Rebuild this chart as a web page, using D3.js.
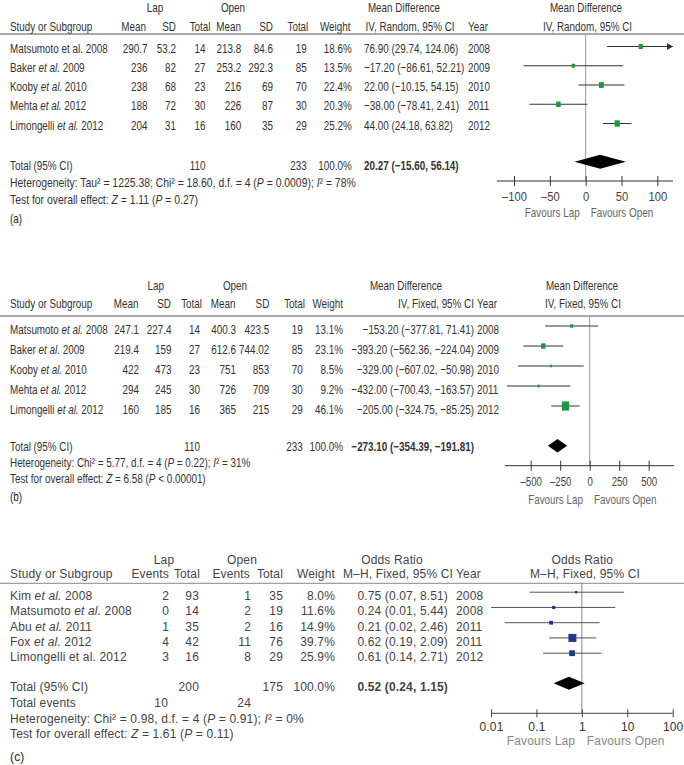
<!DOCTYPE html>
<html><head><meta charset="utf-8">
<script src="https://cdn.jsdelivr.net/npm/d3@7/dist/d3.min.js"></script>
<style>html,body{margin:0;padding:0;background:#fff;}svg{display:block;}</style>
</head><body>
<svg id="chart" width="684" height="765"></svg>
<script>
// ---------------- DATA ----------------
// Panel (a)
const studiesA = ["Matsumoto et al. 2008","Baker et al. 2009","Kooby et al. 2010","Mehta et al. 2012","Limongelli et al. 2012"];
const italicA = [false,true,true,true,true];
const lapMeanA = [290.7,236,238,188,204];
const lapSDA = [53.2,82,68,72,31];
const lapNA = [14,27,23,30,16];
const openMeanA = [213.8,253.2,216,226,160];
const openSDA = [84.6,292.3,69,87,35];
const openNA = [19,85,70,30,29];
const weightA = [18.6,13.5,22.4,20.3,25.2];
const estA = [76.90,-17.20,22.00,-38.00,44.00];
const loA = [29.74,-86.61,-10.15,-78.41,24.18];
const hiA = [124.06,52.21,54.15,2.41,63.82];
const yearA = [2008,2009,2010,2011,2012];
const totalA = [20.27,-15.60,56.14];
const totalNA = [110,233];
const ticksA = [-100,-50,0,50,100];
const hetA = "Heterogeneity: Tau² = 1225.38; Chi² = 18.60, d.f. = 4 (*P* = 0.0009); *I*² = 78%";
const testA = "Test for overall effect: *Z* = 1.11 (*P* = 0.27)";

// Panel (b)
const studiesB = ["Matsumoto et al. 2008","Baker et al. 2009","Kooby et al. 2010","Mehta et al. 2012","Limongelli et al. 2012"];
const italicB = [true,true,true,true,true];
const lapMeanB = [247.1,219.4,422,294,160];
const lapSDB = [227.4,159,473,245,185];
const lapNB = [14,27,23,30,16];
const openMeanB = [400.3,612.6,751,726,365];
const openSDB = [423.5,744.02,853,709,215];
const openNB = [19,85,70,30,29];
const weightB = [13.1,23.1,8.5,9.2,46.1];
const estB = [-153.20,-393.20,-329.00,-432.00,-205.00];
const loB = [-377.81,-562.36,-607.02,-700.43,-324.75];
const hiB = [71.41,-224.04,-50.98,-163.57,-85.25];
const yearB = [2008,2009,2010,2011,2012];
const totalB = [-273.10,-354.39,-191.81];
const totalNB = [110,233];
const ticksB = [-500,-250,0,250,500];
const hetB = "Heterogeneity: Chi² = 5.77, d.f. = 4 (*P* = 0.22); *I*² = 31%";
const testB = "Test for overall effect: *Z* = 6.58 (*P* < 0.00001)";

// Panel (c)
const studiesC = ["Kim et al. 2008","Matsumoto et al. 2008","Abu et al. 2011","Fox et al. 2012","Limongelli et al. 2012"];
const italicC = [true,true,true,true,false];
const lapEvC = [2,0,1,4,3];
const lapNC = [93,14,35,42,16];
const openEvC = [1,2,2,11,8];
const openNC = [35,19,16,76,29];
const weightC = [8.0,11.6,14.9,39.7,25.9];
const estC = [0.75,0.24,0.21,0.62,0.61];
const loC = [0.07,0.01,0.02,0.19,0.14];
const hiC = [8.51,5.44,2.46,2.09,2.71];
const yearC = [2008,2008,2011,2011,2012];
const totalC = [0.52,0.24,1.15];
const totalNC = [200,175];
const totalEvC = [10,24];
const ticksC = [0.01,0.1,1,10,100];
const tickLabelsC = ["0.01","0.1","1","10","100"];
const hetC = "Heterogeneity: Chi² = 0.98, d.f. = 4 (*P* = 0.91); *I*² = 0%";
const testC = "Test for overall effect: *Z* = 1.61 (*P* = 0.11)";

// ---------------- DRAWING ----------------
const svg = d3.select("#chart");
svg.append("rect").attr("width",684).attr("height",765).attr("fill","#fff");

const FA = "'Liberation Sans',Arial,sans-serif";
const dash = s => s.replace(/-/g, "\u2013");
const f2 = v => dash(d3.format(".2f")(v));
const pct = v => d3.format(".1f")(v) + "%";
const numS = v => dash(String(v));

function txt(g, x, y, str, o = {}) {
  const t = g.append("text").attr("dy", "0.36em")
    .attr("text-anchor", o.anchor || "start")
    .attr("font-family", o.family).attr("font-size", o.size)
    .attr("fill", o.fill).attr("font-weight", o.weight || null)
    .attr("letter-spacing", o.ls || null);
  if (o.sx && o.sx !== 1) t.attr("transform", `translate(${x},${y}) scale(${o.sx},1)`);
  else t.attr("x", x).attr("y", y);
  String(str).split("*").forEach((p, i) => {
    if (p.length) t.append("tspan").text(p).attr("font-style", i % 2 ? "italic" : null);
  });
  return t;
}
const nameMarkup = (n, it) => it ? n.replace(" et al. ", " *et al.* ") : n;

function panel(cfg) {
  const g = svg.append("g");
  const o = {family: cfg.font, size: cfg.fs, fill: cfg.textFill, ls: cfg.ls, sx: cfg.sx};
  const oe = Object.assign({}, o, {anchor: "end"});
  const om = Object.assign({}, o, {anchor: "middle"});
  const L = cfg.L;

  // header
  txt(g, L.lapC, L.topY, "Lap", om);
  txt(g, L.openC, L.topY, "Open", om);
  txt(g, 10, L.subY, "Study or Subgroup", o);
  cfg.cols.forEach(c => txt(g, c.hx, L.subY, c.h, oe));
  txt(g, L.midHdrC, L.topY, cfg.effName, om);
  txt(g, L.ciHdrX, L.subY, cfg.method, Object.assign({}, o, {anchor: L.ciAnchor}));
  txt(g, L.yearX, L.subY, "Year", o);
  txt(g, L.rightHdrC, L.topY, cfg.effName, om);
  txt(g, L.rightHdrC2, L.subY, cfg.method, om);
  g.append("line").attr("x1", 0).attr("x2", 684).attr("y1", L.lineY).attr("y2", L.lineY)
    .attr("stroke", cfg.ruleColor).attr("stroke-width", 1);

  const x = cfg.x;
  const [pl, pr] = L.plotExt;
  // zero line
  g.append("line").attr("x1", x(cfg.nullV)).attr("x2", x(cfg.nullV))
    .attr("y1", L.lineY).attr("y2", L.axisY).attr("stroke", cfg.zeroColor).attr("stroke-width", 1);

  const sz = d3.scalePow().exponent(0.75).domain([0, d3.max(cfg.weight)]).range([0, cfg.maxBox]);
  cfg.names.forEach((n, i) => {
    const ty = L.rowY0 + L.rowStep * i;
    const my = ty + L.markOff;
    txt(g, 10, ty, nameMarkup(n, cfg.italic[i]), o);
    cfg.cols.forEach(c => txt(g, c.vx, ty, c.v(i), oe));
    txt(g, L.ciX, ty, cfg.ciFmt(cfg.est[i], cfg.lo[i], cfg.hi[i]), Object.assign({}, o, {anchor: L.ciAnchor}));
    txt(g, L.yearX, ty, cfg.year[i], o);
    // CI line
    const x1 = Math.max(pl, x(cfg.lo[i])), x2raw = x(cfg.hi[i]);
    const x2 = Math.min(pr, x2raw);
    g.append("line").attr("x1", x1).attr("x2", x2).attr("y1", my).attr("y2", my)
      .attr("stroke", cfg.ciColor).attr("stroke-width", 1);
    if (x2raw > pr) {
      g.append("path").attr("d", `M${pr},${my} l-6,-3.5 l0,7 Z`).attr("fill", cfg.ciColor);
    }
    const w = Math.max(2, sz(cfg.weight[i])), h = w * cfg.boxAspect;
    g.append("rect").attr("x", x(cfg.est[i]) - w / 2).attr("y", my - h / 2)
      .attr("width", w).attr("height", h).attr("fill", cfg.boxColor);
  });

  // totals
  txt(g, 10, L.totalY, "Total (95% CI)", o);
  txt(g, L.totNx[0], L.totalY, cfg.totalN[0], oe);
  txt(g, L.totNx[1], L.totalY, cfg.totalN[1], oe);
  txt(g, L.totWx, L.totalY, pct(100), oe);
  txt(g, L.ciX, L.totalY, cfg.ciFmt(cfg.total[0], cfg.total[1], cfg.total[2]),
      Object.assign({}, o, {anchor: L.ciAnchor, weight: "bold"}));
  const dy = L.diamY, hh = L.diamH;
  g.append("path").attr("d", `M${x(cfg.total[1])},${dy} L${x(cfg.total[0])},${dy - hh} L${x(cfg.total[2])},${dy} L${x(cfg.total[0])},${dy + hh} Z`)
    .attr("fill", "#000");

  if (cfg.totalEv) {
    txt(g, 10, L.evY, "Total events", o);
    txt(g, L.evX[0], L.evY, cfg.totalEv[0], oe);
    txt(g, L.evX[1], L.evY, cfg.totalEv[1], oe);
  }
  const oh = Object.assign({}, o, {sx: cfg.hsx || cfg.sx});
  txt(g, 10, L.hetY, cfg.het, oh);
  txt(g, 10, L.testY, cfg.test, oh);
  txt(g, 10, L.labY, cfg.label, Object.assign({}, o, {fill: "#222"}));

  // axis
  const ax = g.append("g").attr("transform", `translate(0,${L.axisY})`);
  ax.append("line").attr("x1", pl).attr("x2", pr).attr("stroke", cfg.axisColor).attr("stroke-width", 1);
  const axis = d3.axisBottom(x).tickValues(cfg.ticks).tickSize(0).tickFormat((d, i) => cfg.tickLabels[i]);
  const ag = ax.append("g").call(axis);
  ag.select(".domain").remove();
  ag.selectAll(".tick line").attr("y1", -L.tk).attr("y2", L.tk).attr("stroke", cfg.axisColor);
  ag.selectAll(".tick text").attr("y", 0).attr("dy", "0.36em")
    .attr("transform", `translate(0,${L.tickLabY - L.axisY}) scale(${cfg.tsx || 1},1)`)
    .attr("font-family", cfg.font).attr("font-size", cfg.fs).attr("fill", cfg.tickFill)
    .attr("letter-spacing", cfg.ls || null);
  const z = x(cfg.nullV);
  txt(g, z - L.favGap, L.favY, "Favours Lap", Object.assign({}, o, {anchor: "end", fill: cfg.favFill}));
  txt(g, z + L.favGap2, L.favY, "Favours Open", Object.assign({}, o, {fill: cfg.favFill}));
}

const mdFmt = (e, l, h) => `${f2(e)} (${f2(l)}, ${f2(h)})`;
const orFmt = (e, l, h) => `${d3.format(".2f")(e)} (${d3.format(".2f")(l)}, ${d3.format(".2f")(h)})`;

// Panel (a)
panel({
  font: FA, fs: 13, sx: 0.76, hsx: 0.8, tsx: 0.86, textFill: "#333", tickFill: "#444", favFill: "#666",
  ruleColor: "#555", zeroColor: "#999", ciColor: "#333", axisColor: "#333",
  boxColor: "#1a9a3c", boxAspect: 1.2, maxBox: 5.3,
  effName: "Mean Difference", method: "IV, Random, 95% CI", label: "(a)",
  names: studiesA, italic: italicA, weight: weightA, est: estA, lo: loA, hi: hiA, year: yearA,
  total: totalA, totalN: totalNA, het: hetA, test: testA, nullV: 0,
  ticks: ticksA, tickLabels: ticksA.map(numS),
  x: d3.scaleLinear().domain([-100, 100]).range([514, 657.3]),
  ciFmt: mdFmt,
  cols: [
    {h: "Mean", hx: 146, vx: 147.5, v: i => numS(lapMeanA[i])},
    {h: "SD", hx: 176, vx: 176, v: i => numS(lapSDA[i])},
    {h: "Total", hx: 210.5, vx: 205.5, v: i => lapNA[i]},
    {h: "Mean", hx: 241, vx: 241.3, v: i => numS(openMeanA[i])},
    {h: "SD", hx: 273, vx: 273, v: i => numS(openSDA[i])},
    {h: "Total", hx: 308.3, vx: 306.7, v: i => openNA[i]},
    {h: "Weight", hx: 350.5, vx: 351.7, v: i => pct(weightA[i])}
  ],
  L: {lapC: 155, openC: 233, topY: 7.5, subY: 26.5, lineY: 34,
      midHdrC: 404, ciHdrX: 365.5, ciX: 364, ciAnchor: "start", yearX: 468,
      rightHdrC: 586, rightHdrC2: 587.5,
      rowY0: 48, rowStep: 19.25, markOff: -1.5,
      totalY: 165, totNx: [205.5, 306.7], totWx: 351.7, diamY: 161.7, diamH: 7,
      hetY: 182.3, testY: 199, labY: 218.3,
      plotExt: [497, 673], axisY: 181, tk: 5, tickLabY: 196, favY: 212.7, favGap: 6, favGap2: 5}
});

// Panel (b)
panel({
  font: FA, fs: 13, sx: 0.76, tsx: 0.74, textFill: "#333", tickFill: "#444", favFill: "#666",
  ruleColor: "#555", zeroColor: "#999", ciColor: "#333", axisColor: "#333",
  boxColor: "#1a9a3c", boxAspect: 1.25, maxBox: 7.3,
  effName: "Mean Difference", method: "IV, Fixed, 95% CI", label: "(b)",
  names: studiesB, italic: italicB, weight: weightB, est: estB, lo: loB, hi: hiB, year: yearB,
  total: totalB, totalN: totalNB, het: hetB, test: testB, nullV: 0,
  ticks: ticksB, tickLabels: ticksB.map(numS),
  x: d3.scaleLinear().domain([-500, 500]).range([530.7, 648.7]),
  ciFmt: mdFmt,
  cols: [
    {h: "Mean", hx: 138.5, vx: 139, v: i => numS(lapMeanB[i])},
    {h: "SD", hx: 171, vx: 171.5, v: i => numS(lapSDB[i])},
    {h: "Total", hx: 202, vx: 200, v: i => lapNB[i]},
    {h: "Mean", hx: 235.5, vx: 236, v: i => numS(openMeanB[i])},
    {h: "SD", hx: 269.3, vx: 269.3, v: i => numS(openSDB[i])},
    {h: "Total", hx: 305, vx: 302.7, v: i => openNB[i]},
    {h: "Weight", hx: 343, vx: 343, v: i => pct(weightB[i])}
  ],
  L: {lapC: 155.7, openC: 235, topY: 285, subY: 303, lineY: 316,
      midHdrC: 406, ciHdrX: 474, ciX: 474, ciAnchor: "end", yearX: 477,
      rightHdrC: 582, rightHdrC2: 583,
      rowY0: 329, rowStep: 20, markOff: -3,
      totalY: 446.7, totNx: [200, 302.7], totWx: 343, diamY: 445.7, diamH: 6.7,
      hetY: 462.3, testY: 478.3, labY: 496.7,
      plotExt: [505, 674], axisY: 465.7, tk: 5, tickLabY: 481.7, favY: 499, favGap: 6.7, favGap2: 4.3}
});

// Panel (c)
panel({
  font: FA, fs: 12, ls: 0.15, textFill: "#444", tickFill: "#333", favFill: "#888",
  ruleColor: "#888", zeroColor: "#888", ciColor: "#555", axisColor: "#444",
  boxColor: "#1f3c8c", boxAspect: 1, maxBox: 8,
  effName: "Odds Ratio", method: "M\u2013H, Fixed, 95% CI", label: "(c)",
  names: studiesC, italic: italicC, weight: weightC, est: estC, lo: loC, hi: hiC, year: yearC,
  total: totalC, totalN: totalNC, totalEv: totalEvC, het: hetC, test: testC, nullV: 1,
  ticks: ticksC, tickLabels: tickLabelsC,
  x: d3.scaleLog().domain([0.01, 100]).range([491, 672.7]),
  ciFmt: orFmt,
  cols: [
    {h: "Events", hx: 169, vx: 169, v: i => lapEvC[i]},
    {h: "Total", hx: 200, vx: 199, v: i => lapNC[i]},
    {h: "Events", hx: 250, vx: 251, v: i => openEvC[i]},
    {h: "Total", hx: 283, vx: 283, v: i => openNC[i]},
    {h: "Weight", hx: 335, vx: 335, v: i => pct(weightC[i])}
  ],
  L: {lapC: 164, openC: 242, topY: 559.3, subY: 573.3, lineY: 583.3,
      midHdrC: 392, ciHdrX: 453, ciX: 448, ciAnchor: "end", yearX: 456,
      rightHdrC: 582.3, rightHdrC2: 585,
      rowY0: 595.7, rowStep: 15.25, markOff: -3.5,
      totalY: 686.7, totNx: [199, 283], totWx: 335, diamY: 683.3, diamH: 6.5,
      evY: 702.7, evX: [168, 251],
      hetY: 718.3, testY: 733.3, labY: 757,
      plotExt: [491, 672.7], axisY: 713.3, tk: 4, tickLabY: 726.7, favY: 740.7, favGap: 6.7, favGap2: 5}
});
</script>
</body></html>
